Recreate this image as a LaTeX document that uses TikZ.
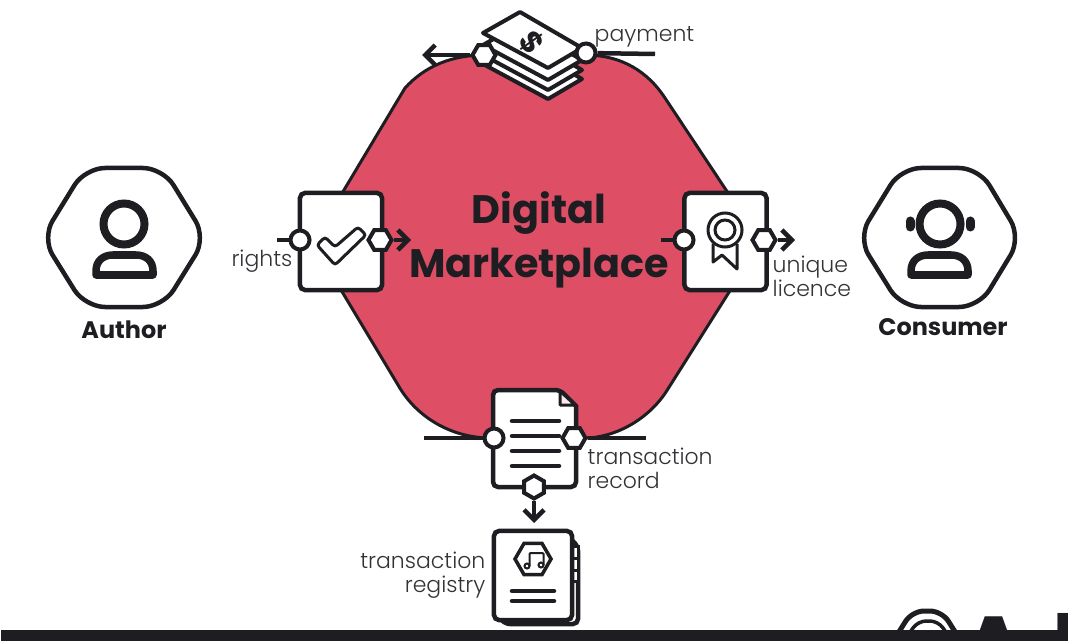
\documentclass[tikz,border=0pt]{standalone}
\usepackage{fontspec}
\setmainfont{Poppins}
\newfontfamily\lightfont{Poppins}[UprightFont=* Light]
\usetikzlibrary{positioning}
\usetikzlibrary{arrows.meta,shapes.geometric}
\definecolor{marketred}{HTML}{DE4F66}
\definecolor{inkblack}{HTML}{1E1E22}
\definecolor{inkgrey}{HTML}{333337}

\begin{document}
\begin{tikzpicture}
  [x=0.01cm,y=-0.01cm,
  line/.style={draw=inkblack,line width=0.045cm},
  thinline/.style={draw=inkblack,line width=0.03cm},
  flow/.style={inkblack,line width=0.045cm,-{Straight Barb[length=0.1cm,width=0.2cm,line width=0.045cm]}},
  plainflow/.style={inkblack,line width=0.045cm},
  iconbox/.style={rectangle,line,fill=white,rounded corners=0.05cm,inner sep=0pt},
  circleport/.style={circle,line,line width=0.04cm,fill=white,inner sep=0pt,minimum size=0.19cm},
  flathexport/.style={regular polygon,regular polygon sides=6,line,line width=0.04cm,fill=white,inner sep=0pt,minimum size=0.23cm},
  hexport/.style={flathexport,shape border rotate=30},
  label/.style={text=inkgrey,inner sep=0pt,font=\lightfont\fontsize{6.25}{6.8}\selectfont},
  actor/.style={text=inkblack,inner sep=0pt,font=\fontsize{6.8}{7}\selectfont\bfseries},
  title/.style={text=inkblack,inner sep=0pt,align=center,font=\fontsize{11.3}{15.2}\selectfont\bfseries}]
  \useasboundingbox (0,0) rectangle (1068,640);
  \clip (0,0) rectangle (1068,640);

  % marketplace
  \draw [line,fill=marketred,line width=0.03cm] (485,55) -- (585,55)
    .. controls (622,55) and (648,72) .. (665,98) -- (738,208)
    .. controls (755,235) and (755,250) .. (738,278) -- (666,392)
    .. controls (646,422) and (612,438) .. (585,438) -- (490,438)
    .. controls (455,438) and (418,420) .. (398,385) -- (338,285)
    .. controls (322,255) and (322,232) .. (338,200) -- (405,88)
    .. controls (425,66) and (452,55) .. (485,55) -- cycle;
  \node[title] (market) at (539,240) {Digital\\Marketplace};

  % author
  \draw [line,rounded corners=0.2cm] (42,238) -- (85,168) -- (163,168) -- (206,238) -- (163,307) -- (85,307) -- cycle;
  \draw [line,line width=0.08cm] (124,224) circle (20.5);
  \draw [line,line width=0.075cm,line join=round] (96,275) -- (96,271) .. controls (96,261) and (103,255) .. (113,255) -- (136,255) .. controls (146,255) and (153,261) .. (153,271) -- (153,275) -- cycle;
  \node[actor] (author) at (124,330) {Author};

  % consumer
  \draw [line,rounded corners=0.2cm] (858,238) -- (901,168) -- (979,168) -- (1021,238) -- (979,307) -- (901,307) -- cycle;
  \draw [line,line width=0.08cm] (940,224) circle (20.5);
  \draw [line,line width=0.09cm,line cap=round] (910,221) -- (910,227);
  \draw [line,line width=0.09cm,line cap=round] (970,221) -- (970,227);
  \draw [line,line width=0.075cm,line join=round] (911,275) -- (911,271) .. controls (911,261) and (918,255) .. (928,255) -- (951,255) .. controls (961,255) and (968,261) .. (968,271) -- (968,275) -- cycle;
  \node[actor] (consumer) at (943,327) {Consumer};

  % payment
  \coordinate (payfree) at (655,54);
  \coordinate (payout) at (422,55);
  \foreach \d in {31,22,12,0}
    \draw [line,fill=white,line join=round,line width=0.04cm] (483,33+\d) -- (520,12+\d) -- (582,48+\d) -- (548,68+\d) -- cycle;
  \node[rotate=-55,text=inkblack,inner sep=0pt,font=\fontsize{8.5}{9}\selectfont\bfseries] (dollar) at (532,43) {\$};
  \node[flathexport] (payin) at (484,55) {};
  \node[circleport] (paycirc) at (586,53) {};
  \draw [plainflow] (paycirc) -- (payfree);
  \draw [flow] (payin) -- (payout);
  \node[label,anchor=west] (payment) at (594,37) {payment};

  % rights
  \node[iconbox,minimum width=0.82cm,minimum height=0.97cm] (rightsbox) at (341,241.5) {};
  \draw [thinline,rounded corners=0.03cm] (317,245) -- (325,237) -- (335,247) -- (358,227) -- (366,235) -- (335,265) -- cycle;
  \coordinate (rightsfree) at (277,240);
  \coordinate (rightsout) at (411,240);
  \node[circleport] (rightsin) at (300,240) {};
  \node[flathexport] (rightshex) at (380,240) {};
  \draw [plainflow] (rightsfree) -- (rightsin);
  \draw [flow] (rightshex) -- (rightsout);
  \node[label,anchor=east] (rights) at (293,261) {rights};

  % licence
  \node[iconbox,minimum width=0.82cm,minimum height=0.97cm] (licencebox) at (725.5,241.5) {};
  \draw [thinline,line join=round] (713,244) -- (713,262) -- (722,255) -- (737,269) -- (737,244);
  \draw [thinline,fill=white] (725,230) circle (17);
  \draw [thinline] (725,230) circle (10);
  \coordinate (licencefree) at (661,240);
  \coordinate (licenceout) at (795,240);
  \node[circleport] (licencein) at (684,240) {};
  \node[flathexport] (licencehex) at (764,240) {};
  \draw [plainflow] (licencefree) -- (licencein);
  \draw [flow] (licencehex) -- (licenceout);
  \node[label,anchor=north west,align=left] (licence) at (772,255) {unique\\licence};

  % record
  \draw [line,fill=white,rounded corners=0.05cm] (493,390) -- (560,390) [sharp corners] -- (576,406) [rounded corners=0.05cm] -- (576,487) -- (493,487) -- cycle;
  \draw [thinline,fill=marketred!12,line join=round] (560,391) -- (560,405) -- (575,405) -- cycle;
  \foreach \y in {421,436,451,466}
    \draw [line,line cap=round] (512,\y) -- (559,\y);
  \coordinate (recordleft) at (424,438);
  \coordinate (recordright) at (646,438);
  \coordinate (recordout) at (534,523);
  \node[circleport] (recordin) at (494,438) {};
  \node[flathexport] (recordhex) at (574,438) {};
  \node[hexport] (recorddown) at (534,487) {};
  \draw [plainflow] (recordleft) -- (recordin);
  \draw [plainflow] (recordhex) -- (recordright);
  \draw [flow] (recorddown) -- (recordout);
  \node[label,anchor=north west,align=left] (record) at (587,447) {transaction\\record};

  % registry
  \draw [line,fill=white,rounded corners=0.05cm] (565,534) -- (578,546) -- (578,624) -- (505,624) -- (495,612);
  \draw [thinline,fill=white] (572,546) rectangle (578,558);
  \draw [thinline,fill=white] (572,558) rectangle (578,570);
  \draw [thinline,fill=white] (572,570) rectangle (578,581);
  \node[iconbox,minimum width=0.78cm,minimum height=0.89cm] (registrybox) at (533,575.5) {};
  \node[flathexport,minimum size=0.36cm,line width=0.035cm] (notehex) at (533,559) {};
  \draw [inkblack,line width=0.02cm] (527,566) circle (2.5) (541,565) circle (2.5);
  \draw [inkblack,line width=0.02cm,rounded corners=0.01cm] (529.5,566) -- (529.5,553) -- (543.5,553) -- (543.5,565);
  \draw [line,line cap=round] (512,591) -- (554,591);
  \draw [line,line cap=round] (512,601) -- (554,601);
  \node[label,anchor=north east,align=right] (registry) at (486,551) {transaction\\registry};

  % cut off at the bottom
  \draw [line,line width=0.05cm,rounded corners=0.12cm] (897,635) -- (912,611) -- (942,611) -- (957,635);
  \draw [line,line width=0.035cm,rounded corners=0.08cm] (908,635) -- (918,621) -- (938,621) -- (948,635);
  \node[anchor=base west,text=inkblack,inner sep=0pt,font=\fontsize{25}{25}\selectfont\bfseries] (cutoff) at (961,678) {A\kern 0.26cm l};
  \node[fill=inkblack,minimum width=10.68cm,minimum height=0.11cm,inner sep=0pt,anchor=north west] (bar) at (0,629.5) {};
\end{tikzpicture}
\end{document}
